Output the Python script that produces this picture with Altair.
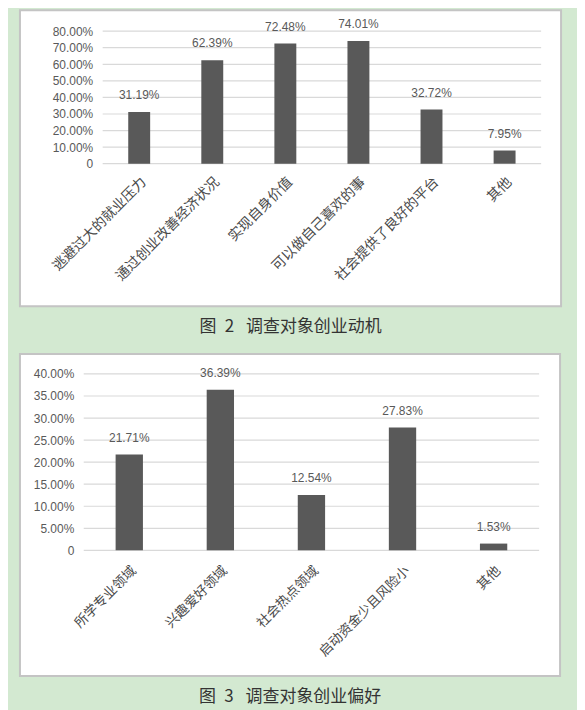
import altair as alt
import pandas as pd

# ---- data ----
cats1 = ["逃避过大的就业压力", "通过创业改善经济状况", "实现自身价值",
         "可以做自己喜欢的事", "社会提供了良好的平台", "其他"]
vals1 = [31.19, 62.39, 72.48, 74.01, 32.72, 7.95]
ticks1 = [0, 10, 20, 30, 40, 50, 60, 70, 80]
caption1 = "图\u20022\u2002\u2009调查对象创业动机"

cats2 = ["所学专业领域", "兴趣爱好领域", "社会热点领域", "启动资金少且风险小", "其他"]
vals2 = [21.71, 36.39, 12.54, 27.83, 1.53]
ticks2 = [0, 5, 10, 15, 20, 25, 30, 35, 40]
caption2 = "图\u20023\u2002\u2009调查对象创业偏好"

BG = "#d3e9d1"
BAR = "#595959"
TXT = "#595959"
GRID = "#d9d9d9"
NUM_FONT = "Liberation Sans"
CJK = "Noto Sans CJK SC"


def panel(cats, vals, ticks, w, h, inset, pouter, balign, ext, caption,
          cat_size, cat_pad):
    df = pd.DataFrame({"cat": cats, "val": vals,
                       "lab": [f"{v:.2f}%" for v in vals]})
    ymax = ticks[-1]
    yscale = alt.Scale(domain=[0, ymax], nice=False)
    xscale = alt.Scale(paddingInner=0.7, paddingOuter=pouter, align=balign)
    yaxis = alt.Axis(values=ticks, grid=False, domain=False,
                     ticks=False, labelPadding=10, offset=-inset,
                     labelFont=NUM_FONT, labelFontSize=12,
                     labelColor=TXT, zindex=1, title=None,
                     labelExpr="datum.value == 0 ? '0' : format(datum.value, '.2f') + '%'")
    xaxis = alt.Axis(labelAngle=-45, domain=False, ticks=False,
                     labelFont=CJK, labelFontSize=cat_size,
                     labelColor="#4a4a4a", labelPadding=cat_pad,
                     labelLimit=300, zindex=1, title=None)

    left, right, top, bottom = ext
    bg = alt.Chart(pd.DataFrame({"p": [0]})).mark_rect(
        fill="white", stroke="#c4c4c4", strokeWidth=2
    ).encode(
        x=alt.value(-left), x2=alt.value(w + right),
        y=alt.value(-top), y2=alt.value(h + bottom),
    )

    grid = alt.Chart(pd.DataFrame({"t": ticks})).mark_rule(
        color=GRID, strokeWidth=1.2
    ).encode(
        y=alt.Y("t:Q", scale=yscale, axis=yaxis),
        x=alt.value(inset), x2=alt.value(w),
    )

    base = alt.Chart(df)
    bars = base.mark_bar(color=BAR).encode(
        x=alt.X("cat:N", sort=cats, scale=xscale, axis=xaxis),
        y=alt.Y("val:Q", scale=yscale, axis=yaxis),
    )
    texts = base.mark_text(
        baseline="alphabetic", dy=-13, fontSize=12, font=NUM_FONT, color=TXT
    ).encode(
        x=alt.X("cat:N", sort=cats, scale=xscale, axis=xaxis),
        y=alt.Y("val:Q", scale=yscale, axis=yaxis),
        text="lab:N",
    )
    return alt.layer(bg, grid, bars, texts).properties(
        width=w, height=h,
        title=alt.TitleParams(caption, orient="bottom", anchor="middle",
                              frame="bounds", font=CJK, fontSize=17,
                              fontWeight="normal", color="#333333",
                              offset=12),
    )


# panel 1: view spans x 83..542, plot grid starts 19px in
p1 = panel(cats1, vals1, ticks1, 459, 133, 19, 0.4795, 0.635,
           (64, 20, 21, 143), caption1, 14, 11)
# panel 2: view spans x 83..540
p2 = panel(cats2, vals2, ticks2, 457, 177, 0, 0.35, 0.5,
           (64, 21, 20, 126), caption2, 13.5, 13)

chart = alt.vconcat(p1, p2, spacing=18).properties(
    background=BG,
    padding={"left": 11, "top": 0, "right": 15, "bottom": 4},
).configure_view(stroke=None)

chart.save("out.html", embed_options={"renderer": "svg", "actions": False})
